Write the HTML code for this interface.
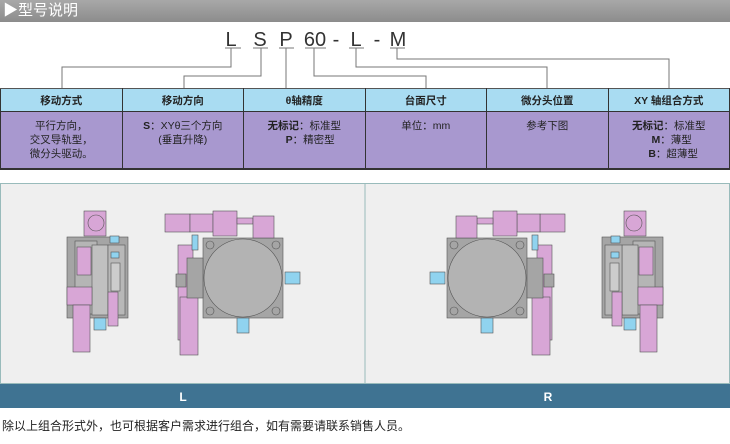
<!DOCTYPE html>
<html><head><meta charset="utf-8"><style>
body{margin:0;width:730px;height:444px;background:#fff;overflow:hidden;font-family:"Liberation Sans","Noto Sans CJK SC",sans-serif;position:relative}
.hd{position:absolute;left:0;top:0;width:730px;height:22px;background:linear-gradient(#a8a8a8,#8c8c8c);color:#fff;font-size:15px;line-height:22px;padding-left:3px;box-sizing:border-box}
.tb{position:absolute;left:0;top:88px;width:730px;border-collapse:collapse;table-layout:fixed}
.tb td{border-left:1px solid #333;border-right:1px solid #333;text-align:center;font-size:10.5px;color:#222;box-sizing:border-box}
.tb tr.h td{background:#a9dcf2;height:23px;font-weight:bold;border-top:1px solid #555;border-bottom:1px solid #333;padding:0}
.tb tr.b td{background:#a898cf;height:57px;vertical-align:top;padding:7px 0 0 0;line-height:14px;border-bottom:2px solid #333}
.foot{position:absolute;left:2px;top:417px;font-size:12px;color:#222}
</style></head><body>
<div class="hd">▶型号说明</div>
<svg style="position:absolute;left:0;top:0" width="730" height="444">
<g font-family="Liberation Sans,sans-serif" font-size="20" fill="#333" text-anchor="middle">
<text x="231" y="46">L</text><text x="260" y="46">S</text><text x="286" y="46">P</text><text x="315" y="46">60</text><text x="336" y="46">-</text><text x="356" y="46">L</text><text x="377" y="46">-</text><text x="398" y="46">M</text>
</g>
<g stroke="#777" stroke-width="1" fill="none">
<path d="M225 48H241M231 48V67H62V88"/>
<path d="M253 48H268M261 48V76H184V88"/>
<path d="M279 48H294M286 48V88"/>
<path d="M305 48H326M314 48V76H426V88"/>
<path d="M349 48H364M356 48V67H547V88"/>
<path d="M390 48H405M397 48V59H669V88"/>
</g>
<rect x="0.5" y="183.5" width="729" height="200" fill="#efefef" stroke="#9bb"/>
<line x1="365" y1="183" x2="365" y2="384" stroke="#9bb"/>
<rect x="0" y="384" width="730" height="24" fill="#3f7392"/>
<text x="183" y="401" fill="#fff" font-size="12" font-weight="bold" text-anchor="middle" font-family="Liberation Sans,sans-serif">L</text>
<text x="548" y="401" fill="#fff" font-size="12" font-weight="bold" text-anchor="middle" font-family="Liberation Sans,sans-serif">R</text>
<defs><g id="d" stroke="#555" stroke-width="0.6">
<rect x="67" y="237" width="61" height="81" fill="#a5a5a5"/>
<rect x="75" y="241" width="22" height="73" fill="#b5b5b5"/>
<rect x="92" y="245" width="16" height="70" fill="#c0c0c0"/>
<rect x="108" y="245" width="17" height="70" fill="#b8b8b8"/>
<rect x="84" y="211" width="22" height="25" fill="#d8a6d6"/>
<circle cx="96" cy="223" r="8" fill="#d8a6d6"/>
<rect x="77" y="247" width="14" height="28" fill="#d8a6d6"/>
<rect x="67" y="287" width="25" height="18" fill="#d8a6d6"/>
<rect x="73" y="305" width="17" height="47" fill="#d8a6d6"/>
<rect x="94" y="318" width="12" height="12" fill="#90d3ef"/>
<rect x="108" y="292" width="10" height="34" fill="#d8a6d6"/>
<rect x="110" y="236" width="9" height="7" fill="#90d3ef"/>
<rect x="111" y="252" width="8" height="6" fill="#90d3ef"/>
<rect x="111" y="263" width="9" height="28" fill="#ccc"/>
<rect x="203" y="238" width="80" height="80" fill="#a5a5a5"/>
<circle cx="243" cy="278" r="39" fill="#b3b3b3"/>
<circle cx="210" cy="245" r="4" fill="none"/><circle cx="276" cy="245" r="4" fill="none"/><circle cx="210" cy="311" r="4" fill="none"/><circle cx="276" cy="311" r="4" fill="none"/>
<rect x="165" y="214" width="25" height="18" fill="#d8a6d6"/>
<rect x="190" y="214" width="23" height="18" fill="#d8a6d6"/>
<rect x="213" y="211" width="24" height="25" fill="#d8a6d6"/>
<rect x="237" y="218" width="16" height="6" fill="#d8a6d6"/>
<rect x="253" y="216" width="21" height="22" fill="#d8a6d6"/>
<rect x="178" y="245" width="15" height="95" fill="#d8a6d6"/>
<rect x="180" y="297" width="18" height="58" fill="#d8a6d6"/>
<rect x="176" y="274" width="10" height="13" fill="#a5a5a5"/>
<rect x="187" y="258" width="16" height="40" fill="#a5a5a5"/>
<rect x="192" y="235" width="6" height="15" fill="#90d3ef"/>
<rect x="285" y="272" width="15" height="12" fill="#90d3ef"/>
<rect x="237" y="318" width="12" height="15" fill="#90d3ef"/>
</g></defs>
<use href="#d"/>
<use href="#d" transform="translate(730,0) scale(-1,1)"/>
</svg>
<table class="tb">
<tr class="h"><td>移动方式</td><td>移动方向</td><td>θ轴精度</td><td>台面尺寸</td><td>微分头位置</td><td>XY 轴组合方式</td></tr>
<tr class="b"><td>平行方向，<br>交叉导轨型，<br>微分头驱动。</td><td><b>S</b>：XYθ三个方向<br>(垂直升降)</td><td><b>无标记</b>：标准型<br>&nbsp;&nbsp;&nbsp;&nbsp;<b>P</b>：精密型</td><td>单位：mm</td><td>参考下图</td><td><b>无标记</b>：标准型<br>&nbsp;&nbsp;<b>M</b>：薄型<br>&nbsp;&nbsp;&nbsp;<b>B</b>：超薄型</td></tr>
</table>
<div class="foot">除以上组合形式外，也可根据客户需求进行组合，如有需要请联系销售人员。</div>
</body></html>
